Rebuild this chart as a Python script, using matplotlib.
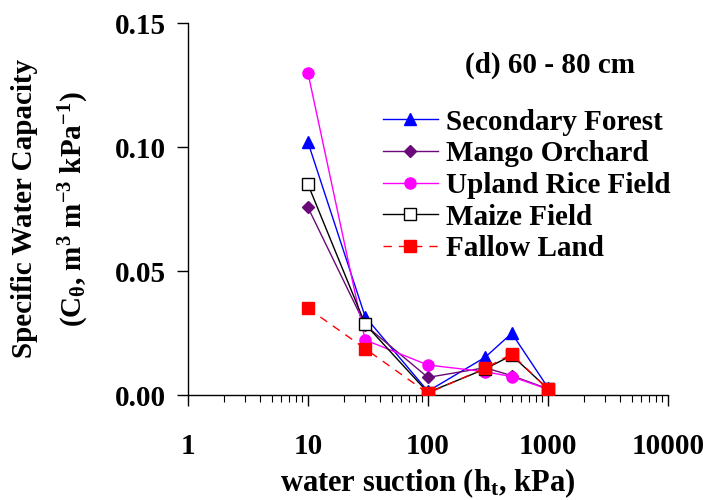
import matplotlib
matplotlib.use("Agg")
import matplotlib.pyplot as plt
from matplotlib.ticker import FixedLocator, NullFormatter, FixedFormatter

plt.rcParams['font.family'] = ['Liberation Serif', 'DejaVu Serif']
plt.rcParams['font.weight'] = 'bold'
plt.rcParams['mathtext.fontset'] = 'custom'
plt.rcParams['mathtext.rm'] = 'Liberation Serif:bold'
plt.rcParams['mathtext.it'] = 'Liberation Serif:bold'
plt.rcParams['mathtext.bf'] = 'Liberation Serif:bold'

suction = [10, 30, 100, 300, 500, 1000]
secondary_forest = [0.102, 0.0316, 0.0015, 0.0152, 0.0249, 0.003]
mango_orchard = [0.0757, 0.0282, 0.0071, 0.0110, 0.0078, 0.0025]
upland_rice = [0.130, 0.0222, 0.0121, 0.0094, 0.0074, 0.0023]
maize_field = [0.085, 0.0286, 0.0010, 0.0105, 0.0160, 0.0025]
fallow_land = [0.035, 0.0187, 0.0007, 0.0108, 0.0165, 0.0023]

x_ticks = [1, 10, 100, 1000, 10000]
x_tick_labels = ['1', '10', '100', '1000', '10000']
y_ticks = [0.00, 0.05, 0.10, 0.15]
y_tick_labels = ['0.00', '0.05', '0.10', '0.15']

fig = plt.figure(figsize=(7.09, 5.0), dpi=100)
ax = fig.add_axes([0.265, 0.21, 0.677, 0.744])

ax.plot(suction, secondary_forest, color='#0000ff', lw=1.0, marker='^', ms=8,
        label='Secondary Forest', zorder=3)
ax.plot(suction, mango_orchard, color='#6a0a78', lw=1.0, marker='D', ms=6,
        label='Mango Orchard', zorder=3)
ax.plot(suction, upland_rice, color='#ff00ff', lw=1.0, marker='o', ms=8,
        label='Upland Rice Field', zorder=3)
ax.plot(suction, maize_field, color='black', lw=1.0, marker='s', ms=8,
        mfc='white', mec='black', label='Maize Field', zorder=4)
ax.plot(suction, fallow_land, color='#ff0000', lw=1.0, ls=(0, (6, 5)), marker='s', ms=8,
        label='Fallow Land', zorder=5)

ax.set_xscale('log')
ax.set_xlim(1, 10000)
ax.set_ylim(0, 0.15)

ax.xaxis.set_major_locator(FixedLocator(x_ticks))
ax.xaxis.set_major_formatter(FixedFormatter(x_tick_labels))
minors = [m * 10 ** e for e in range(0, 4) for m in range(2, 10)]
ax.xaxis.set_minor_locator(FixedLocator(minors))
ax.xaxis.set_minor_formatter(NullFormatter())
ax.yaxis.set_major_locator(FixedLocator(y_ticks))
ax.yaxis.set_major_formatter(FixedFormatter(y_tick_labels))

for s in ['top', 'right']:
    ax.spines[s].set_visible(False)
for s in ['left', 'bottom']:
    ax.spines[s].set_linewidth(1.0)

ax.tick_params(axis='x', which='major', direction='out', length=8, width=1.0,
               labelsize=21, pad=19)
ax.tick_params(axis='x', which='minor', direction='out', length=5, width=0.8)
ax.tick_params(axis='y', which='major', direction='out', length=8, width=1.0,
               labelsize=21, pad=8)

ax.set_xlabel('water suction (h$_t$, kPa)', fontsize=22, fontweight='bold', labelpad=5)
ax.set_ylabel('Specific Water Capacity\n(C$_\\theta$, m$^3$ m$^{-3}$ kPa$^{-1}$)',
              fontsize=21, fontweight='bold', labelpad=17, linespacing=1.75)

ax.text(0.754, 0.887, '(d) 60 - 80 cm', transform=ax.transAxes, ha='center', va='center',
        fontsize=21, fontweight='bold')

leg = ax.legend(loc='upper left', bbox_to_anchor=(0.406, 0.77), frameon=False,
                handlelength=1.9, handletextpad=0.27, labelspacing=0.16,
                borderaxespad=0.0, borderpad=0.0,
                prop={'weight': 'bold', 'size': 21})

fig.savefig('out.png', dpi=100)
